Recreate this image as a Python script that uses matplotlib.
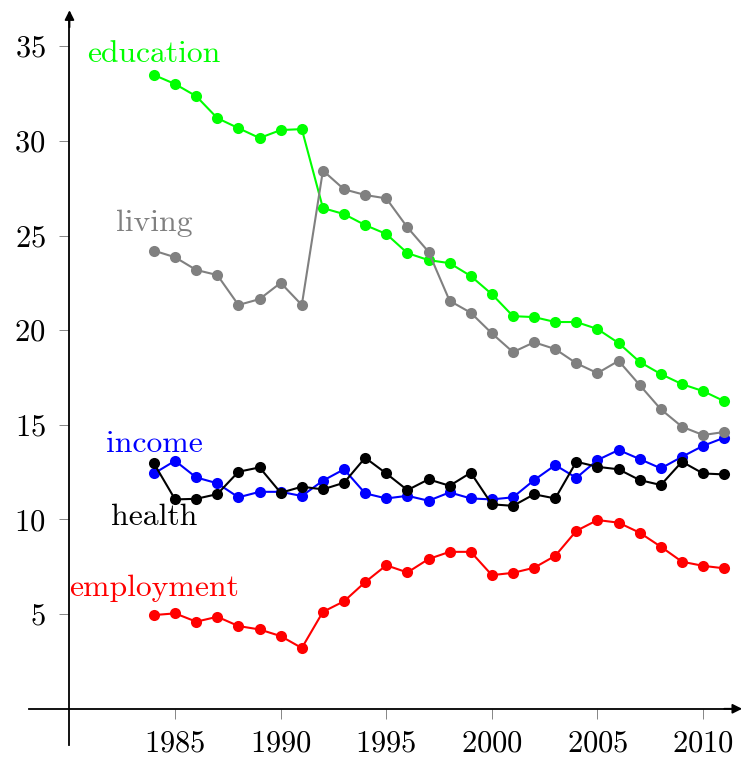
import matplotlib
matplotlib.use('Agg')
import matplotlib.pyplot as plt
import numpy as np

plt.rcParams['font.family'] = 'cmr10'
plt.rcParams['mathtext.fontset'] = 'cm'
plt.rcParams['axes.formatter.use_mathtext'] = True

years = list(range(1984, 2012))

education = [33.48, 33.0, 32.36, 31.2, 30.67, 30.15, 30.57, 30.62, 26.45, 26.13,
             25.55, 25.08, 24.07, 23.7, 23.54, 22.86, 21.9, 20.74, 20.69, 20.43,
             20.43, 20.06, 19.32, 18.32, 17.68, 17.15, 16.78, 16.25]
living = [24.2, 23.85, 23.18, 22.91, 21.33, 21.64, 22.5, 21.33, 28.43, 27.44,
          27.14, 26.96, 25.43, 24.14, 21.55, 20.92, 19.83, 18.84, 19.36, 19.0,
          18.25, 17.73, 18.38, 17.1, 15.82, 14.9, 14.46, 14.62]
income = [12.43, 13.1, 12.22, 11.91, 11.17, 11.46, 11.46, 11.24, 12.05, 12.65,
          11.38, 11.11, 11.25, 10.99, 11.43, 11.11, 11.06, 11.17, 12.08, 12.87,
          12.2, 13.14, 13.67, 13.19, 12.7, 13.31, 13.89, 14.32]
health = [12.96, 11.06, 11.09, 11.34, 12.52, 12.75, 11.41, 11.73, 11.59, 11.94,
          13.26, 12.43, 11.55, 12.12, 11.78, 12.47, 10.8, 10.72, 11.33, 11.11,
          13.05, 12.78, 12.65, 12.08, 11.82, 13.05, 12.43, 12.38]
employment = [4.95, 5.04, 4.6, 4.86, 4.37, 4.19, 3.84, 3.21, 5.12, 5.68,
              6.69, 7.58, 7.2, 7.91, 8.29, 8.29, 7.06, 7.18, 7.45, 8.08,
              9.4, 9.97, 9.83, 9.3, 8.56, 7.77, 7.55, 7.42]

# name, values, colour, label baseline height (drawn in this order)
series = [
    ('education', education, '#00ff00', 34.18),
    ('income', income, '#0000ff', 13.58),
    ('health', health, 'black', 9.70),
    ('living', living, '#808080', 25.22),
    ('employment', employment, '#ff0000', 5.95),
]

fig = plt.figure(figsize=(7.43, 7.58), dpi=100)
ax = fig.add_axes([0, 0, 1, 1])
ax.set_xlim(1976.71, 2011.89)
ax.set_ylim(-2.6, 37.44)
ax.patch.set_visible(False)

for name, vals, col, ylab in series:
    ax.plot(years, vals, '-o', color=col, lw=1.5, ms=8, mec=col, mew=0)
    ax.text(1984, ylab, name, color=col, fontsize=22.8, ha='center', va='baseline')

# axis lines crossing at (1980, 0)
for side in ['top', 'right']:
    ax.spines[side].set_visible(False)
ax.spines['left'].set_position(('data', 1980))
ax.spines['bottom'].set_position(('data', 0))
ax.spines['left'].set_bounds(-1.92, 36.4)
ax.spines['bottom'].set_bounds(1978.06, 2011.4)
for side in ['left', 'bottom']:
    ax.spines[side].set_linewidth(1.3)

arrow = dict(arrowstyle='-|>', lw=1.3, color='black', mutation_scale=14,
             shrinkA=0, shrinkB=0)
ax.annotate('', xy=(2011.85, 0), xytext=(2011.0, 0), arrowprops=arrow)
ax.annotate('', xy=(1980, 36.9), xytext=(1980, 36.0), arrowprops=arrow)

ax.set_xticks([1985, 1990, 1995, 2000, 2005, 2010])
ax.set_yticks([5, 10, 15, 20, 25, 30, 35])
ax.tick_params(direction='out', length=7, width=0.6, color='0.45',
               labelsize=22, labelcolor='black')
ax.tick_params(axis='x', pad=8)
ax.tick_params(axis='y', pad=10)

fig.savefig('out.png', dpi=100)
